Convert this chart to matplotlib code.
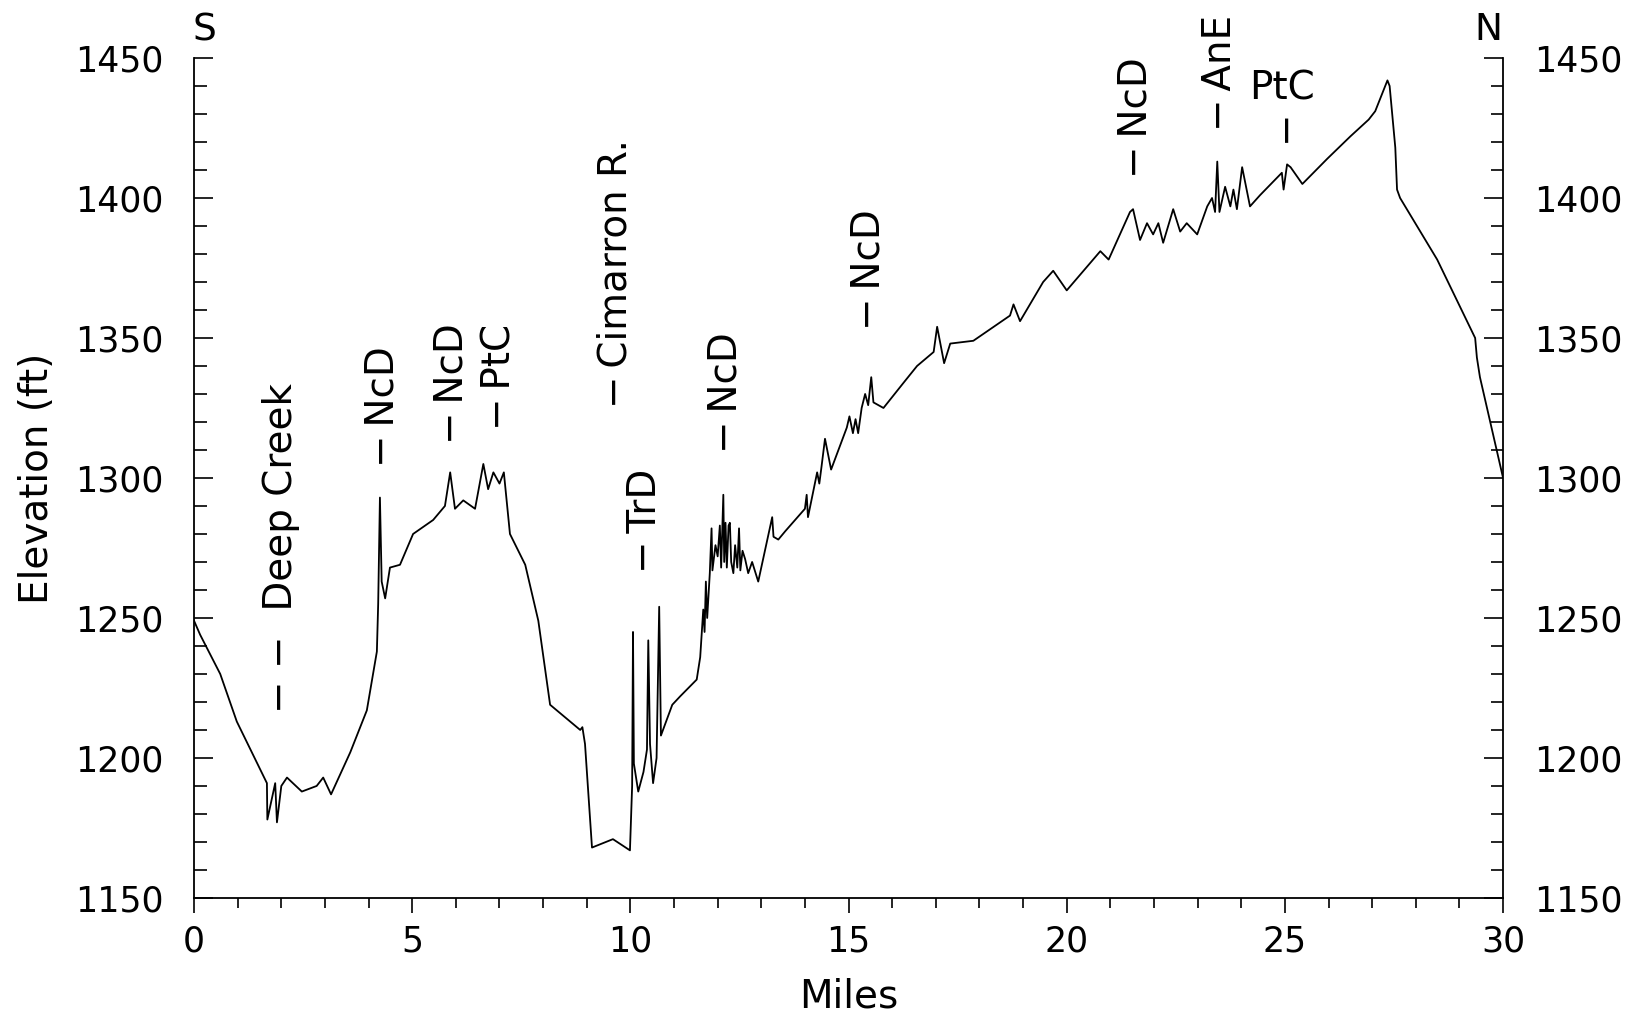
import matplotlib
matplotlib.use("Agg")
import matplotlib.pyplot as plt
from matplotlib.ticker import MultipleLocator

# Road profile, south to north
miles = [
    0.00, 0.14, 0.60, 0.98, 1.67, 1.68, 1.86, 1.90, 2.00, 2.13, 2.47, 2.81,
    2.96, 3.14, 3.58, 3.96, 4.19, 4.22, 4.26, 4.30, 4.38, 4.49, 4.72, 5.02,
    5.48, 5.75, 5.87, 5.98, 6.17, 6.44, 6.63, 6.74, 6.86, 7.00, 7.10, 7.24,
    7.59, 7.89, 8.16, 8.85, 8.90, 8.96, 9.12, 9.60, 9.99, 10.04, 10.06, 10.08,
    10.18, 10.30, 10.38, 10.41, 10.45, 10.52, 10.60, 10.66, 10.70, 10.96, 11.14,
    11.52, 11.60, 11.67, 11.70, 11.73, 11.76, 11.82, 11.86, 11.88, 11.95, 12.00,
    12.05, 12.08, 12.13, 12.15, 12.18, 12.21, 12.25, 12.28, 12.31, 12.36, 12.40,
    12.45, 12.49, 12.52, 12.57, 12.63, 12.70, 12.79, 12.93, 13.25, 13.28, 13.39,
    13.55, 14.00, 14.04, 14.07, 14.28, 14.33, 14.38, 14.46, 14.60, 14.96, 15.02,
    15.10, 15.16, 15.22, 15.30, 15.38, 15.45, 15.52, 15.57, 15.80, 16.26, 16.57,
    16.95, 17.03, 17.19, 17.33, 17.86, 18.70, 18.78, 18.93, 19.46, 19.69, 20.00,
    20.77, 20.96, 21.45, 21.52, 21.68, 21.84, 21.98, 22.10, 22.21, 22.44, 22.60,
    22.75, 22.99, 23.22, 23.33, 23.40, 23.45, 23.50, 23.63, 23.75, 23.82, 23.90,
    24.02, 24.20, 24.43, 24.93, 24.97, 25.05, 25.13, 25.40, 25.97, 26.50, 26.92,
    27.07, 27.35, 27.40, 27.53, 27.57, 27.64, 28.49, 29.36, 29.40, 29.47, 30.00,
]
elev_ft = [
    1249, 1244, 1230, 1213, 1191, 1178, 1191, 1177, 1190, 1193, 1188, 1190,
    1193, 1187, 1202, 1217, 1238, 1255, 1293, 1263, 1257, 1268, 1269, 1280,
    1285, 1290, 1302, 1289, 1292, 1289, 1305, 1296, 1302, 1298, 1302, 1280,
    1269, 1249, 1219, 1210, 1211, 1205, 1168, 1171, 1167, 1190, 1245, 1198,
    1188, 1195, 1203, 1242, 1205, 1191, 1200, 1254, 1208, 1219, 1222,
    1228, 1236, 1253, 1245, 1263, 1250, 1266, 1282, 1267, 1276, 1272,
    1283, 1268, 1294, 1270, 1284, 1268, 1283, 1284, 1270, 1266, 1276,
    1268, 1282, 1267, 1274, 1271, 1266, 1270, 1263, 1286, 1279, 1278,
    1281, 1289, 1294, 1286, 1302, 1298, 1304, 1314, 1303, 1318, 1322,
    1316, 1321, 1316, 1325, 1330, 1326, 1336, 1327, 1325, 1334, 1340,
    1345, 1354, 1341, 1348, 1349, 1358, 1362, 1356, 1370, 1374, 1367,
    1381, 1378, 1395, 1396, 1385, 1391, 1387, 1391, 1384, 1396, 1388,
    1391, 1387, 1397, 1400, 1395, 1413, 1395, 1404, 1397, 1403, 1396,
    1411, 1397, 1401, 1409, 1403, 1412, 1411, 1405, 1414, 1422, 1428,
    1431, 1442, 1440, 1418, 1403, 1400, 1378, 1350, 1343, 1336, 1300,
]

# Vertical labels: text, mile, elevation at the foot of the label
label_text = ["− −  Deep Creek", "−\u2009NcD", "−\u2009NcD", "−\u2009PtC",
              "−\u2009Cimarron R.", "−\u2009TrD", "−\u2009NcD", "−\u2009NcD",
              "−\u2009NcD", "−\u2009AnE"]
label_mile = [1.99, 4.31, 5.91, 6.99, 9.65, 10.34, 12.19, 15.45, 21.57, 23.52]
label_elev = [1216, 1304, 1312, 1317, 1325, 1266, 1309, 1353, 1407, 1424]

# PtC near mile 25 is written across, with its marker below
ptc_mile = 25.0
ptc_elev = 1420

x_ticks = [0, 5, 10, 15, 20, 25, 30]
y_ticks = [1150, 1200, 1250, 1300, 1350, 1400, 1450]

plt.rcParams["font.family"] = ["DejaVu Sans"]

fig = plt.figure(figsize=(16.32, 10.30), dpi=100)
ax = fig.add_axes([0.1189, 0.1282, 0.8021, 0.8155])

ax.plot(miles, elev_ft, color="black", linewidth=1.3)

ax.set_xlim(0, 30)
ax.set_ylim(1150, 1450)
ax.set_xticks(x_ticks)
ax.set_yticks(y_ticks)
ax.xaxis.set_minor_locator(MultipleLocator(1))
ax.yaxis.set_minor_locator(MultipleLocator(10))

ax.spines["top"].set_visible(False)
for side in ("left", "right", "bottom"):
    ax.spines[side].set_linewidth(1.3)

ax.tick_params(axis="x", which="both", direction="out", top=False,
               labelsize=25, pad=8, width=1.2)
ax.tick_params(axis="x", which="major", length=11)
ax.tick_params(axis="x", which="minor", length=7)
ax.tick_params(axis="y", which="both", direction="in", left=True, right=True,
               labelleft=True, labelright=True, labelsize=25, pad=22, width=1.2)
ax.tick_params(axis="y", which="major", length=14)
ax.tick_params(axis="y", which="minor", length=9)

ax.set_xlabel("Miles", fontsize=28, labelpad=14)
ax.set_ylabel("Elevation (ft)", fontsize=28, labelpad=14)

for txt, xm, ye in zip(label_text, label_mile, label_elev):
    ax.text(xm, ye, txt, rotation=90, ha="center", va="bottom",
            fontsize=28, clip_on=False)

ax.text(ptc_mile, ptc_elev, "−", rotation=90, ha="center", va="bottom",
        fontsize=28, clip_on=False)
ax.text(ptc_mile - 0.06, ptc_elev + 15, "PtC", ha="center", va="baseline",
        fontsize=28, clip_on=False)

# Direction markers above the ends of the profile
ax.text(0.008, 1.033, "S", transform=ax.transAxes, ha="center", va="center",
        fontsize=27)
ax.text(0.9885, 1.033, "N", transform=ax.transAxes, ha="center", va="center",
        fontsize=27)

fig.savefig("out.png", dpi=100)
